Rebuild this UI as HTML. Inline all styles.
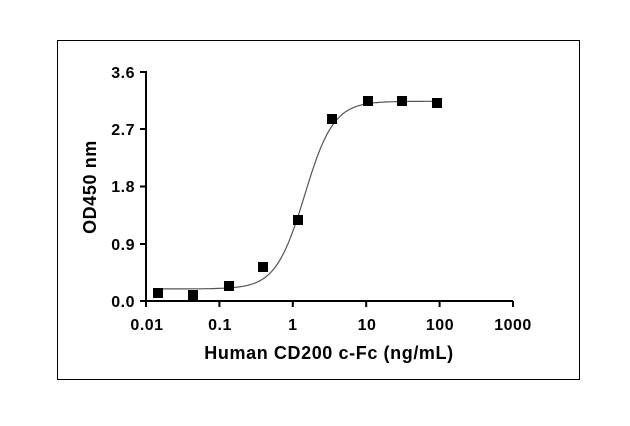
<!DOCTYPE html>
<html><head><meta charset="utf-8"><style>
body{margin:0;background:#fff;width:630px;height:421px;overflow:hidden}
text{font-family:"Liberation Sans",Arial,sans-serif;font-weight:bold;fill:#000}
</style></head><body>
<svg id="s" width="630" height="421" viewBox="0 0 630 421">
<rect x="57.5" y="40.5" width="522" height="339" fill="none" stroke="#000" stroke-width="1"/>
<g stroke="#000" stroke-width="2" fill="none">
<line x1="146" y1="71" x2="146" y2="302"/>
<line x1="145" y1="301" x2="513" y2="301"/>
<line x1="140" y1="72" x2="146" y2="72"/>
<line x1="140" y1="129" x2="146" y2="129"/>
<line x1="140" y1="186.5" x2="146" y2="186.5"/>
<line x1="140" y1="244" x2="146" y2="244"/>
<line x1="140" y1="301" x2="146" y2="301"/>
<line x1="146" y1="301" x2="146" y2="307"/>
<line x1="219.4" y1="301" x2="219.4" y2="307"/>
<line x1="292.8" y1="301" x2="292.8" y2="307"/>
<line x1="366.2" y1="301" x2="366.2" y2="307"/>
<line x1="439.6" y1="301" x2="439.6" y2="307"/>
<line x1="513" y1="301" x2="513" y2="307"/>
</g>
<g font-size="16" text-anchor="end" letter-spacing="0.5">
<text x="135" y="78">3.6</text>
<text x="135" y="135">2.7</text>
<text x="135" y="192">1.8</text>
<text x="135" y="250">0.9</text>
<text x="135" y="307">0.0</text>
</g>
<g font-size="16" text-anchor="middle" letter-spacing="0.5">
<text x="147" y="330">0.01</text>
<text x="220" y="330">0.1</text>
<text x="292.8" y="330">1</text>
<text x="367" y="330">10</text>
<text x="440" y="330">100</text>
<text x="513" y="330">1000</text>
</g>
<text x="329" y="359" font-size="18" text-anchor="middle" letter-spacing="0.6">Human CD200 c-Fc (ng/mL)</text>
<text transform="translate(96,187) rotate(-90)" font-size="18" text-anchor="middle" letter-spacing="0.6">OD450 nm</text>
<path id="c" fill="none" stroke="#555" stroke-width="1.2"/>
<g fill="#000">
<rect x="153" y="288" width="10" height="10"/>
<rect x="188" y="290" width="10" height="10"/>
<rect x="224" y="281" width="10" height="10"/>
<rect x="258" y="262" width="10" height="10"/>
<rect x="293" y="215" width="10" height="10"/>
<rect x="327" y="114" width="10" height="10"/>
<rect x="363" y="96" width="10" height="10"/>
<rect x="397" y="96" width="10" height="10"/>
<rect x="432" y="98" width="10" height="10"/>
</g>
</svg>
<script>
var d="";for(var i=0;i<=200;i++){var lx=Math.log10(0.015)+i*(Math.log10(100)-Math.log10(0.015))/200;var x=Math.pow(10,lx);
var y=0.19+(3.14-0.19)/(1+Math.pow(1.45/x,2.2));var px=146+73.4*(lx+2),py=301-y*63.6;d+=(i?"L":"M")+px.toFixed(1)+","+py.toFixed(1);}
document.getElementById("c").setAttribute("d",d);
</script>
</body></html>
